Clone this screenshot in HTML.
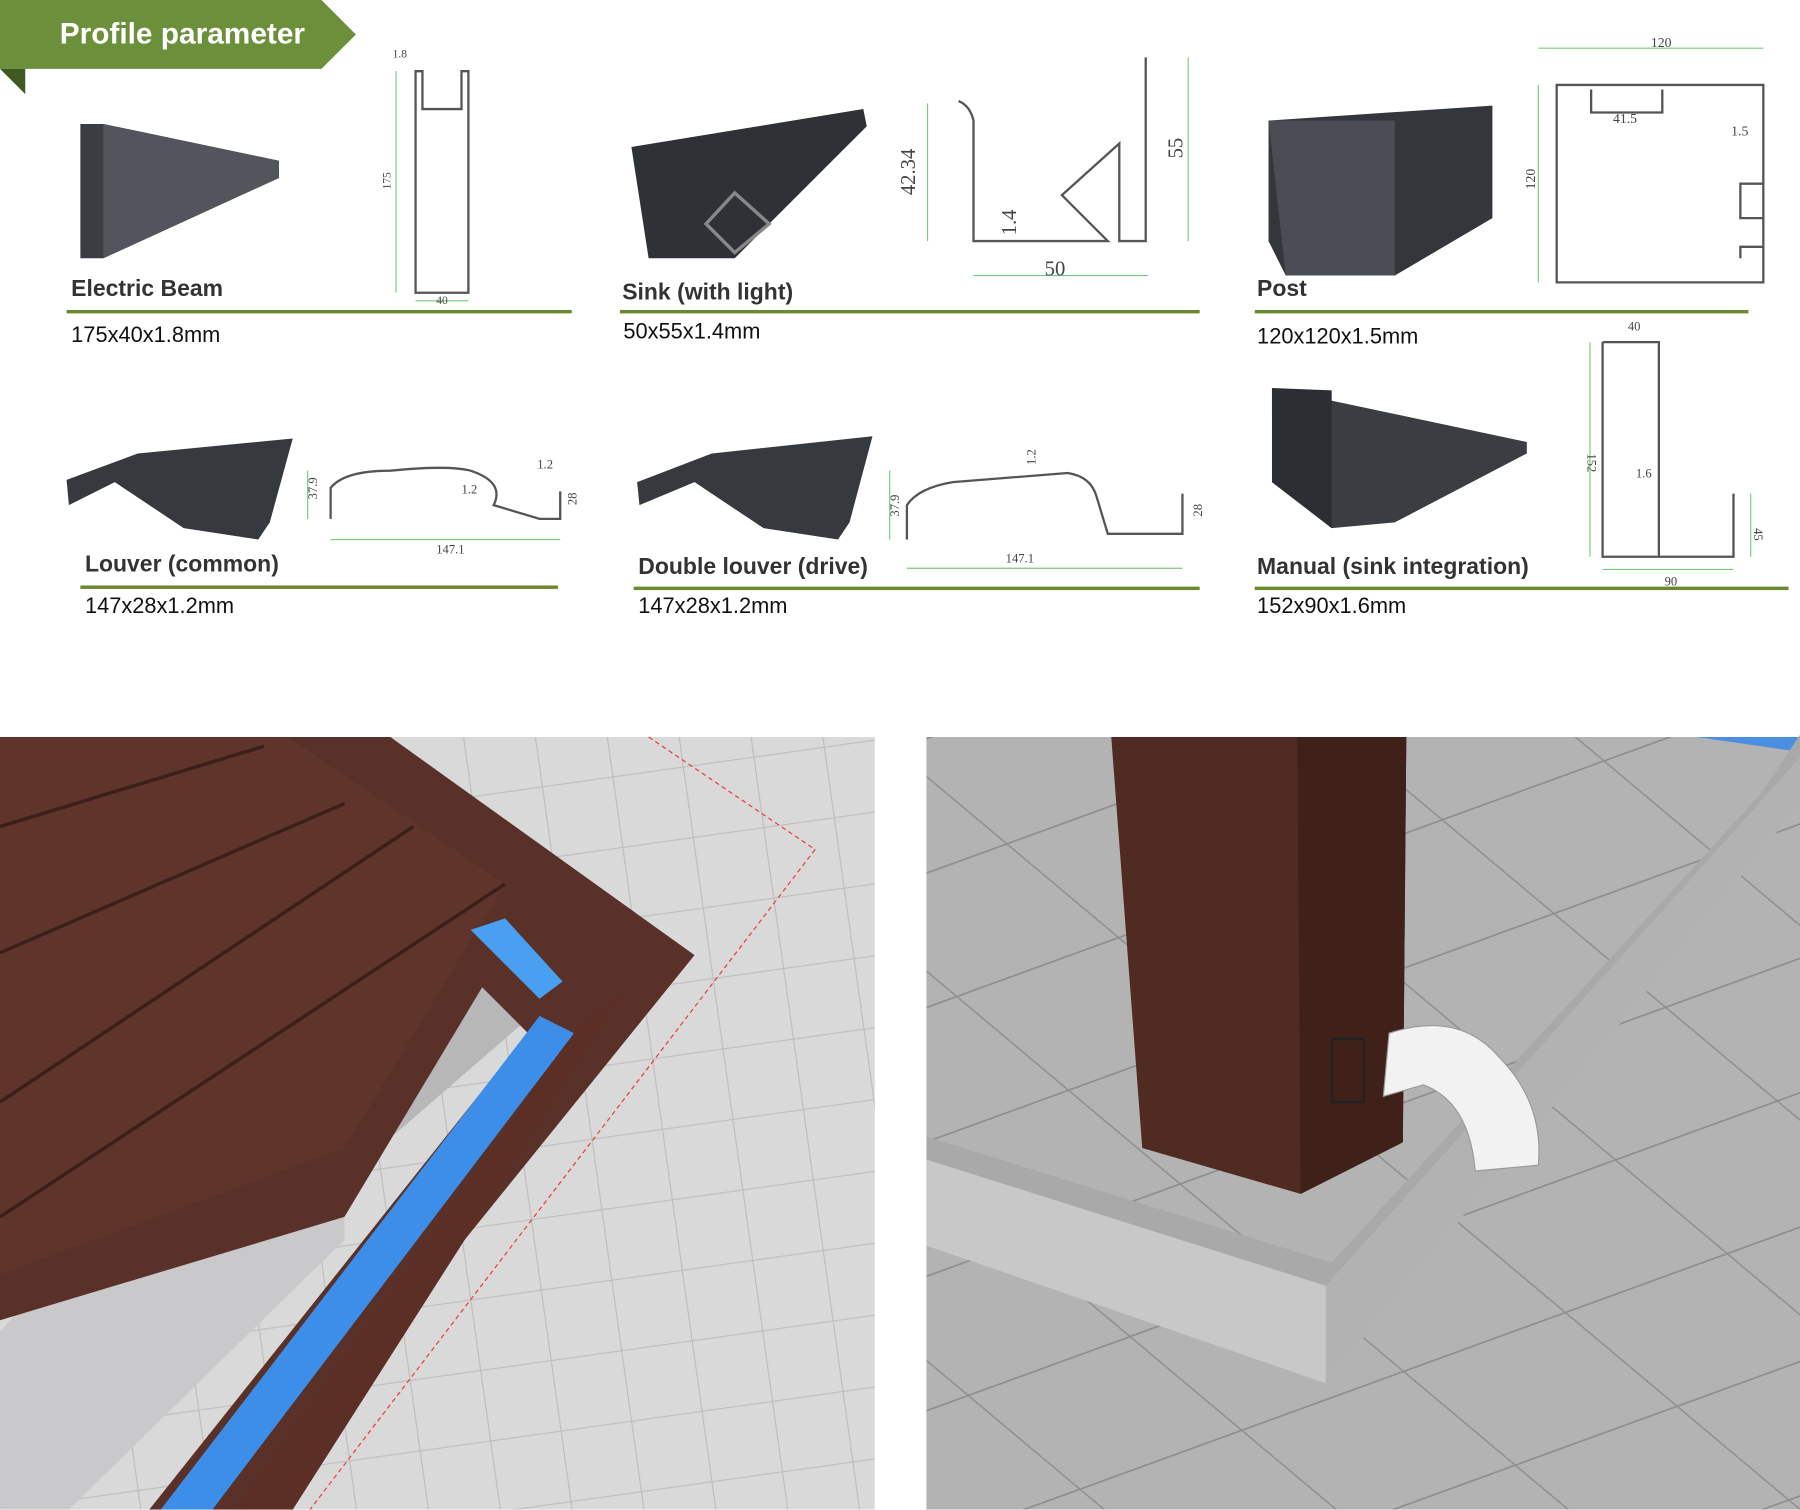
<!DOCTYPE html>
<html><head><meta charset="utf-8"><style>
html,body{margin:0;padding:0;background:#fff;width:1800px;height:1510px;overflow:hidden}
#c{position:absolute;left:0;top:0;width:1568px;height:1315px;transform:scale(1.148);transform-origin:0 0;font-family:"Liberation Sans",sans-serif}
.t{position:absolute;font-size:20px;font-weight:bold;color:#333}
.s{position:absolute;font-size:19px;color:#111}
.ln{position:absolute;height:3px;background:#6b8a2e}
svg{position:absolute;left:0;top:0}
</style></head><body><div id="c">
<svg width="1568" height="1315" viewBox="0 0 1568 1315">
<defs>
<pattern id="tl" width="62" height="62" patternUnits="userSpaceOnUse" patternTransform="rotate(-8)"><rect width="62" height="62" fill="#d9d9d9"/><path d="M0 0H62M0 0V62" stroke="#bdbdbd" stroke-width="2"/></pattern>
<pattern id="tr" width="150" height="110" patternUnits="userSpaceOnUse" patternTransform="rotate(-20) skewX(30)"><rect width="150" height="110" fill="#b3b3b3"/><path d="M0 0H150M0 0V110" stroke="#8f8f8f" stroke-width="3"/></pattern>
</defs>
<!-- banner -->
<polygon points="0,0 280,0 310,30 280,60 0,60" fill="#6b8f3a"/>
<polygon points="0,60 22,60 22,82" fill="#3e5a22"/>
<text x="52" y="38" font-size="26" font-weight="bold" fill="#fff" font-family="Liberation Sans">Profile parameter</text>
<!-- row1 3D profiles -->
<polygon points="70,108 90,108 243,140 243,155 90,225 70,225" fill="#3a3d42"/>
<polygon points="90,108 243,140 243,155 90,225" fill="#52565c"/>
<polygon points="550,128 752,95 755,110 640,225 565,225" fill="#2e3136"/>
<polygon points="615,195 640,168 670,195 640,220" fill="none" stroke="#888" stroke-width="3"/>
<polygon points="1105,105 1300,92 1300,190 1215,240 1120,240 1105,210" fill="#33363b"/>
<polygon points="1105,105 1215,105 1215,240 1120,240" fill="#4a4e54"/>
<!-- row2 3D -->
<polygon points="58,418 120,395 255,382 235,455 225,470 160,460 100,420 60,440" fill="#363a3f"/>
<polygon points="555,420 620,395 760,380 740,455 730,470 665,460 605,420 557,440" fill="#363a3f"/>
<polygon points="1108,338 1330,385 1330,395 1215,455 1160,460 1108,420" fill="#3a3d42"/>
<polygon points="1108,338 1160,340 1160,460 1108,420" fill="#2b2e33"/>
<!-- drawings -->
<g fill="none" stroke="#555" stroke-width="2">
<path d="M362,62V255H408V62H402V95H368V62Z"/>
<path d="M835,88Q845,92 848,105V210H965L925,170L975,125V210H998V50"/>
<path d="M1356,74H1536V246H1356Z"/>
<path d="M1386,78V98H1448V78M1536,160H1516V190H1536M1536,215H1516V225"/>
<path d="M288,452V425Q300,410 340,410Q390,405 410,410Q440,420 430,440L470,452H488V428"/>
<path d="M790,470V440Q800,425 830,420L930,412Q950,415 955,432L965,465H1030V430"/>
<path d="M1396,298V485H1510V430M1396,298H1445V485"/>
</g>
<g stroke="#7c7" stroke-width="1" fill="none">
<path d="M345,62V255M362,262H408M808,90V210M848,240H1000M1035,50V210M1340,42H1536M1340,74V246M268,410V452M288,470H488M775,410V470M790,495H1030M1385,298V485M1396,496H1510M1525,430V485"/>
</g>
<g font-family="Liberation Serif" fill="#444">
<text x="342" y="50" font-size="10">1.8</text><text x="340" y="165" font-size="10" transform="rotate(-90 340 165)">175</text><text x="380" y="265" font-size="10">40</text>
<text x="797" y="170" font-size="18" transform="rotate(-90 797 170)">42.34</text><text x="885" y="205" font-size="18" transform="rotate(-90 885 205)">1.4</text><text x="910" y="240" font-size="18">50</text><text x="1030" y="138" font-size="18" transform="rotate(-90 1030 138)">55</text>
<text x="1438" y="41" font-size="12">120</text><text x="1405" y="107" font-size="12">41.5</text><text x="1508" y="118" font-size="12">1.5</text><text x="1337" y="165" font-size="12" transform="rotate(-90 1337 165)">120</text>
<text x="276" y="435" font-size="11" transform="rotate(-90 276 435)">37.9</text><text x="402" y="430" font-size="11">1.2</text><text x="468" y="408" font-size="11">1.2</text><text x="502" y="440" font-size="11" transform="rotate(-90 502 440)">28</text><text x="380" y="482" font-size="11">147.1</text>
<text x="783" y="450" font-size="11" transform="rotate(-90 783 450)">37.9</text><text x="902" y="405" font-size="11" transform="rotate(-90 902 405)">1.2</text><text x="1047" y="450" font-size="11" transform="rotate(-90 1047 450)">28</text><text x="876" y="490" font-size="11">147.1</text>
<text x="1418" y="288" font-size="11">40</text><text x="1383" y="395" font-size="11" transform="rotate(90 1383 395)">152</text><text x="1425" y="416" font-size="11">1.6</text><text x="1528" y="460" font-size="11" transform="rotate(90 1528 460)">45</text><text x="1450" y="510" font-size="11">90</text>
</g>
<!-- left photo -->
<rect x="0" y="642" width="762" height="673" fill="url(#tl)"/>
<path d="M565,642L710,740L270,1315" stroke="#e33" stroke-dasharray="4,3" fill="none"/>
<polygon points="0,1160 150,990 300,1000 300,1080 60,1315 0,1315" fill="#c9c9cc"/>
<polygon points="310,840 420,830 480,870 330,1000 310,1000" fill="#b7b7b7"/>
<polygon points="0,642 340,642 605,832 215,1315 130,1315 460,900 420,860 300,1060 0,1150" fill="#5a3128"/>
<polygon points="0,642 250,642 440,770 300,1000 0,1110" fill="#5f342b"/>
<g stroke="#3d1f19" stroke-width="3"><path d="M0,720L230,650M0,830L300,700M0,960L360,720M0,1060L440,770"/></g>
<polygon points="410,810 440,800 490,855 470,870" fill="#4aa0f0"/>
<polygon points="470,885 500,900 185,1315 140,1315" fill="#3c8ee8"/>
<polygon points="500,900 545,860 255,1315 205,1315" fill="#5b2f26"/>
<!-- right photo -->
<rect x="807" y="642" width="761" height="673" fill="url(#tr)"/>
<polygon points="1478,642 1568,642 1568,655" fill="#4a8fe0"/>
<polygon points="807,1010 1155,1120 1568,660 1568,700 1155,1205 807,1085" fill="#c8c8c8"/>
<polygon points="807,1010 1155,1120 1568,660 1568,640 1535,690 1160,1100 807,990" fill="#a9a9a9"/>
<polygon points="1155,1120 1568,660 1568,700 1155,1205" fill="#b2b2b2"/>
<polygon points="968,642 1225,642 1222,995 1133,1040 995,1000" fill="#4f2b22"/>
<polygon points="1130,642 1225,642 1222,995 1133,1040" fill="#3f2119"/>
<rect x="1160" y="905" width="28" height="55" fill="none" stroke="#222" stroke-width="2"/>
<path d="M1210,900Q1270,880 1305,920Q1345,960 1340,1015L1285,1020Q1280,960 1240,945L1205,955Z" fill="#f2f2f2" stroke="#999"/>
</svg>
<div class="t" style="left:62px;top:241px">Electric Beam</div><div class="ln" style="left:58px;top:270px;width:440px"></div><div class="s" style="left:62px;top:282px">175x40x1.8mm</div>
<div class="t" style="left:542px;top:244px">Sink (with light)</div><div class="ln" style="left:540px;top:270px;width:505px"></div><div class="s" style="left:543px;top:279px">50x55x1.4mm</div>
<div class="t" style="left:1095px;top:241px">Post</div><div class="ln" style="left:1093px;top:270px;width:430px"></div><div class="s" style="left:1095px;top:283px">120x120x1.5mm</div>
<div class="t" style="left:74px;top:481px">Louver (common)</div><div class="ln" style="left:70px;top:510px;width:416px"></div><div class="s" style="left:74px;top:518px">147x28x1.2mm</div>
<div class="t" style="left:556px;top:483px">Double louver (drive)</div><div class="ln" style="left:552px;top:511px;width:493px"></div><div class="s" style="left:556px;top:518px">147x28x1.2mm</div>
<div class="t" style="left:1095px;top:483px">Manual (sink integration)</div><div class="ln" style="left:1093px;top:511px;width:465px"></div><div class="s" style="left:1095px;top:518px">152x90x1.6mm</div>
</div></body></html>
